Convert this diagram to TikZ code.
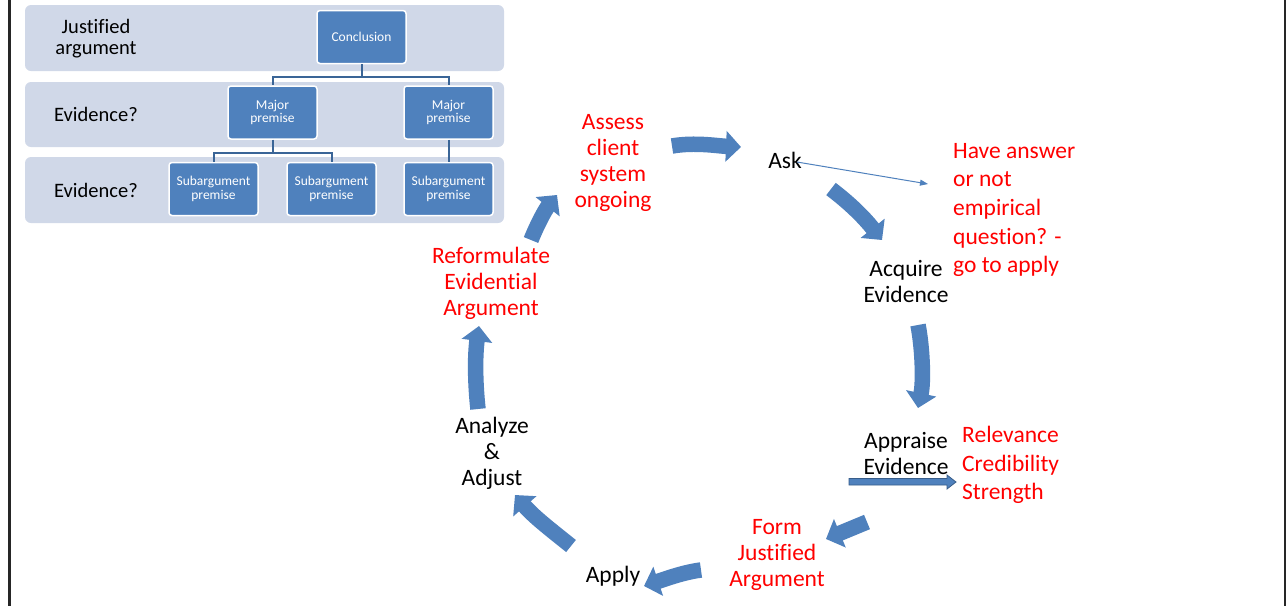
\documentclass[tikz,border=0pt]{standalone}
\usepackage{fontspec}
\setmainfont{Carlito}[Ligatures={NoCommon}]
\usetikzlibrary{arrows.meta}
\definecolor{flowblue}{HTML}{4F81BD}
\definecolor{edgeblue}{HTML}{385D8A}
\definecolor{bandgray}{HTML}{D0D8E8}
\definecolor{linkblue}{HTML}{3A6597}
\definecolor{hotred}{HTML}{FF0000}
\begin{document}
\begin{tikzpicture}[x=1pt,y=-1pt,
  band/.style={fill=bandgray, draw=none, rounded corners=6pt},
  bandlabel/.style={inner sep=0pt, align=center, font=\fontsize{20.5}{21}\selectfont},
  premise/.style={fill=flowblue, draw=white, line width=1.5pt, rounded corners=3pt,
    minimum width=89pt, minimum height=53pt, inner sep=1pt, align=center,
    text=white, font=\fontsize{13.5}{13.5}\selectfont},
  link/.style={draw=linkblue, line width=2pt},
  steplabel/.style={inner sep=0pt, align=center, font=\fontsize{23.5}{26}\selectfont},
  redlabel/.style={steplabel, text=hotred},
  sidenote/.style={inner sep=0pt, align=left, anchor=west, text=hotred,
    font=\fontsize{23.5}{28.6}\selectfont},
  bigarrow/.style={draw=flowblue, line width=15.5pt, -{Triangle[width=30pt,length=15pt]}},
  pointer/.style={draw=flowblue, line width=1pt, -{Triangle[width=6pt,length=8pt]}}
]
\useasboundingbox (0,0) rectangle (1286,606);
\fill[white] (0,0) rectangle (1286,606);

% slide frame edges
\draw[black!85, line width=2.5pt] (9.3,0) -- (9.3,606);
\draw[black!85, line width=2pt] (1285,0) -- (1285,606);

% argument structure: bands
\path[band] (25,5) rectangle (504,71);
\path[band] (25,82) rectangle (504,147);
\path[band] (25,157) rectangle (504,223);
\node[bandlabel] (bjust) at (96,38.5) {Justified\\argument};
\node[bandlabel] (bev1) at (96,114) {Evidence?};
\node[bandlabel] (bev2) at (96,190) {Evidence?};

% argument structure: premises
\node[premise] (concl) at (361.5,37) {Conclusion};
\node[premise] (mp1) at (272.5,112.5) {Major\\premise};
\node[premise] (mp2) at (448.5,112.5) {Major\\premise};
\node[premise] (sub1) at (213.5,189) {Subargument\\premise};
\node[premise] (sub2) at (331.5,189) {Subargument\\premise};
\node[premise] (sub3) at (448.5,189) {Subargument\\premise};

\draw[link] (concl.south) -- ++(0,13) -| (mp1.north);
\draw[link] (concl.south) -- ++(0,13) -| (mp2.north);
\draw[link] (mp1.south) -- ++(0,13) -| (sub1.north);
\draw[link] (mp1.south) -- ++(0,13) -| (sub2.north);
\draw[link] (mp2.south) -- (sub3.north);

% cycle steps
\node[redlabel] (assess) at (613,162.5) {Assess\\client\\system\\ongoing};
\node[steplabel] (ask) at (785,160) {Ask};
\node[sidenote] (haveans) at (953,210) {Have answer\\or not\\empirical\\question? -\\go to apply};
\node[steplabel] (acquire) at (906,281.5) {Acquire\\Evidence};
\node[steplabel] (appraise) at (906,453.5) {Appraise\\Evidence};
\node[sidenote] (relev) at (962,465) {Relevance\\Credibility\\Strength};
\node[redlabel] (form) at (777,555) {Form\\Justified\\Argument};
\node[steplabel] (apply) at (613,576) {Apply};
\node[steplabel] (analyze) at (492,453.5) {Analyze\\\&\\Adjust};
\node[redlabel] (reform) at (491,283) {Reformulate\\Evidential\\Argument};

% cycle arrows
\coordinate (a1s) at (672,146);   \coordinate (a1e) at (741,147);
\coordinate (a2s) at (831,189);   \coordinate (a2e) at (882,240);
\coordinate (a3s) at (918,325);   \coordinate (a3e) at (918,408);
\coordinate (a4s) at (867,522);   \coordinate (a4e) at (826,539);
\coordinate (a5s) at (701,570);   \coordinate (a5e) at (644,586);
\coordinate (a6s) at (571,546);   \coordinate (a6e) at (515,495);
\coordinate (a7s) at (478,409);   \coordinate (a7e) at (479,326);
\coordinate (a8s) at (531,240);   \coordinate (a8e) at (557,195);

\draw[bigarrow] (a1s) .. controls (695,142) and (718,146) .. (a1e);
\draw[bigarrow] (a2s) .. controls (848,202) and (862,215) .. (a2e);
\draw[bigarrow] (a3s) .. controls (922,345) and (924,380) .. (a3e);
\draw[bigarrow] (a4s) -- (a4e);
\draw[bigarrow] (a5s) .. controls (685,572) and (668,578) .. (a5e);
\draw[bigarrow] (a6s) .. controls (555,533) and (535,518) .. (a6e);
\draw[bigarrow] (a7s) .. controls (475,382) and (475,355) .. (a7e);
\draw[bigarrow] (a8s) .. controls (537,225) and (545,210) .. (a8e);

% side pointers
\coordinate (asks) at (797,162);
\coordinate (aske) at (928,184);
\draw[pointer] (asks) -- (aske);

\coordinate (aps) at (849,481.75);
\coordinate (ape) at (956,482);
\filldraw[fill=flowblue, draw=edgeblue, line width=0.8pt]
  (aps) ++(0,-3.25) -- ++(98,0) -- ++(0,-3.5) -- (ape) -- ++(-9,7) -- ++(0,-4) -- ++(-98,0) -- cycle;
\end{tikzpicture}
\end{document}
